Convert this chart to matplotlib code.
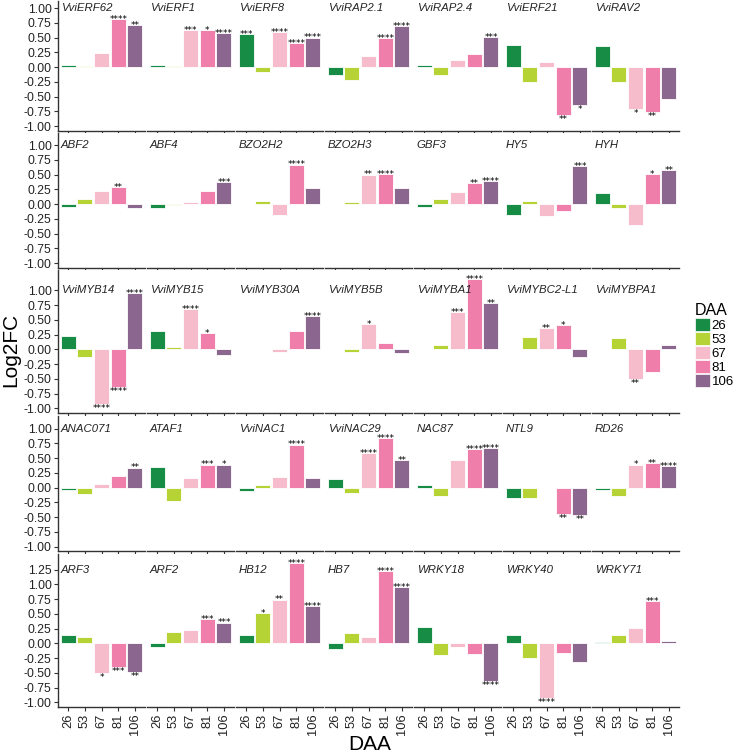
import matplotlib
matplotlib.use('Agg')
import matplotlib.pyplot as plt
import matplotlib.transforms as mtransforms
from matplotlib.patches import Patch
import numpy as np

plt.rcParams['font.family'] = ['Liberation Sans', 'DejaVu Sans']

# sampling times (days after anthesis) and their colours
daa = ['26', '53', '67', '81', '106']
daa_colors = ['#178c45', '#b5d334', '#f7bccb', '#ef7faa', '#8b6790']

# genes, row by row (7 per row)
genes = ['VviERF62', 'VviERF1', 'VviERF8', 'VviRAP2.1', 'VviRAP2.4', 'VviERF21', 'VviRAV2',
         'ABF2', 'ABF4', 'BZO2H2', 'BZO2H3', 'GBF3', 'HY5', 'HYH',
         'VviMYB14', 'VviMYB15', 'VviMYB30A', 'VviMYB5B', 'VviMYBA1', 'VviMYBC2-L1', 'VviMYBPA1',
         'ANAC071', 'ATAF1', 'VviNAC1', 'VviNAC29', 'NAC87', 'NTL9', 'RD26',
         'ARF3', 'ARF2', 'HB12', 'HB7', 'WRKY18', 'WRKY40', 'WRKY71']

# log2 fold change at 26, 53, 67, 81, 106 DAA
log2fc = [
    [0.04, 0.01, 0.24, 0.81, 0.71],
    [0.03, 0.02, 0.62, 0.62, 0.58],
    [0.565, -0.09, 0.60, 0.40, 0.50],
    [-0.13, -0.22, 0.19, 0.49, 0.69],
    [0.03, -0.13, 0.12, 0.22, 0.51],
    [0.37, -0.25, 0.085, -0.81, -0.65],
    [0.35, -0.26, -0.71, -0.76, -0.54],

    [-0.045, 0.085, 0.22, 0.29, -0.07],
    [-0.07, -0.02, 0.035, 0.23, 0.38],
    [0.0, 0.056, -0.19, 0.67, 0.28],
    [0.01, 0.03, 0.50, 0.51, 0.27],
    [-0.045, 0.09, 0.20, 0.35, 0.39],
    [-0.19, 0.05, -0.20, -0.12, 0.64],
    [0.19, -0.07, -0.36, 0.51, 0.58],

    [0.23, -0.125, -0.93, -0.63, 0.95],
    [0.31, 0.04, 0.68, 0.28, -0.096],
    [0.01, 0.004, -0.04, 0.32, 0.565],
    [0.005, -0.04, 0.435, 0.11, -0.06],
    [0.0, 0.073, 0.63, 1.19, 0.785],
    [0.0, 0.21, 0.36, 0.41, -0.13],
    [0.01, 0.19, -0.51, -0.39, 0.08],

    [-0.045, -0.11, 0.056, 0.20, 0.34],
    [0.35, -0.23, 0.17, 0.39, 0.39],
    [-0.056, 0.04, 0.175, 0.73, 0.17],
    [0.14, -0.10, 0.58, 0.84, 0.47],
    [0.045, -0.15, 0.46, 0.66, 0.67],
    [-0.17, -0.17, 0.0, -0.45, -0.47],
    [-0.04, -0.135, 0.39, 0.41, 0.36],

    [0.14, 0.11, -0.50, -0.40, -0.487],
    [-0.056, 0.20, 0.225, 0.41, 0.355],
    [0.147, 0.51, 0.745, 1.36, 0.64],
    [-0.09, 0.17, 0.107, 1.23, 0.96],
    [0.28, -0.19, -0.056, -0.17, -0.64],
    [0.136, -0.24, -0.93, -0.16, -0.31],
    [0.03, 0.15, 0.26, 0.72, 0.05],
]

# significance stars
signif = [
    ['', '', '', '****', '**'],
    ['', '', '***', '*', '****'],
    ['***', '', '****', '****', '****'],
    ['', '', '', '****', '****'],
    ['', '', '', '', '***'],
    ['', '', '', '**', '*'],
    ['', '', '*', '**', ''],

    ['', '', '', '**', ''],
    ['', '', '', '', '***'],
    ['', '', '', '****', ''],
    ['', '', '**', '****', ''],
    ['', '', '', '**', '****'],
    ['', '', '', '', '***'],
    ['', '', '', '*', '**'],

    ['', '', '****', '****', '****'],
    ['', '', '****', '*', ''],
    ['', '', '', '', '****'],
    ['', '', '*', '', ''],
    ['', '', '***', '****', '**'],
    ['', '', '**', '*', ''],
    ['', '', '**', '', ''],

    ['', '', '', '', '**'],
    ['', '', '', '***', '*'],
    ['', '', '', '****', ''],
    ['', '', '****', '****', '**'],
    ['', '', '', '****', '****'],
    ['', '', '', '**', '**'],
    ['', '', '*', '**', '****'],

    ['', '', '*', '***', '**'],
    ['', '', '', '***', '***'],
    ['', '*', '**', '****', '****'],
    ['', '', '', '****', '****'],
    ['', '', '', '', '****'],
    ['', '', '****', '', ''],
    ['', '', '', '***', ''],
]

row_top = [1.12, 1.2, 1.34, 1.22, 1.52]
tick_max = [1.0, 1.0, 1.0, 1.0, 1.25]
y_min = -1.08

W, H = 733, 755
fig = plt.figure(figsize=(W / 100, H / 100), dpi=100)

px_unit = 59.0
left0, panel_w, col_step = 58, 87, 89
axis_col = '#333333'

y_px = 1
for r in range(5):
    h = (row_top[r] - y_min) * px_unit
    for c in range(7):
        k = r * 7 + c
        x_px = left0 + c * col_step
        ax = fig.add_axes([x_px / W, 1 - (y_px + h) / H, panel_w / W, h / H])
        vals = log2fc[k]
        ax.bar(range(5), vals, width=0.9, color=daa_colors, edgecolor='white', linewidth=0.6)
        for i, v in enumerate(vals):
            s = signif[k][i]
            if not s:
                continue
            if v >= 0:
                ax.annotate(s, (i, v), xytext=(0, -3.5), textcoords='offset points',
                            ha='center', va='bottom', fontsize=6.3, family='DejaVu Sans')
            else:
                ax.annotate(s, (i, v), xytext=(0, 0), textcoords='offset points',
                            ha='center', va='top', fontsize=6.3, family='DejaVu Sans')
        ax.set_xlim(-0.6, 4.6)
        ax.set_ylim(y_min, row_top[r])
        trans = mtransforms.blended_transform_factory(ax.transAxes, ax.transData)
        ax.text(0.03, tick_max[r], genes[k], transform=trans, fontsize=8.2,
                style='italic', ha='left', va='center', color='#222222')

        for sp in ['top', 'right']:
            ax.spines[sp].set_visible(False)
        ax.spines['bottom'].set_color(axis_col)
        ax.spines['bottom'].set_linewidth(1.0)
        ax.set_xticks(range(5))
        if r == 4:
            ax.set_xticklabels(daa, rotation=90, fontsize=9.3, color='#222222')
        else:
            ax.set_xticklabels([])
        yt = np.arange(-1.0, tick_max[r] + 0.01, 0.25)
        if c == 0:
            ax.spines['left'].set_color(axis_col)
            ax.spines['left'].set_linewidth(1.0)
            ax.set_yticks(yt)
            ax.set_yticklabels(['%.2f' % t for t in yt], fontsize=8.8, color='#222222')
        else:
            ax.spines['left'].set_visible(False)
            ax.set_yticks([])
        ax.tick_params(color=axis_col, length=3, width=0.8, pad=1.5)
    y_px += h + 2.5

fig.text(11 / W, 1 - 350 / H, 'Log2FC', rotation=90, fontsize=15, ha='center', va='center')
fig.text(370 / W, 1 - 744 / H, 'DAA', fontsize=15, ha='center', va='center')

handles = [Patch(facecolor=col, edgecolor='white', linewidth=0.5) for col in daa_colors]
leg = fig.legend(handles, daa, title='DAA', loc='upper left',
                 bbox_to_anchor=(692 / W, 1 - 300 / H), frameon=False,
                 handlelength=1.15, handleheight=1.15, handletextpad=0.15,
                 labelspacing=0.0, fontsize=9.5, title_fontsize=11.5,
                 borderaxespad=0, borderpad=0.2, alignment='left')

fig.savefig('out.png', dpi=100)
